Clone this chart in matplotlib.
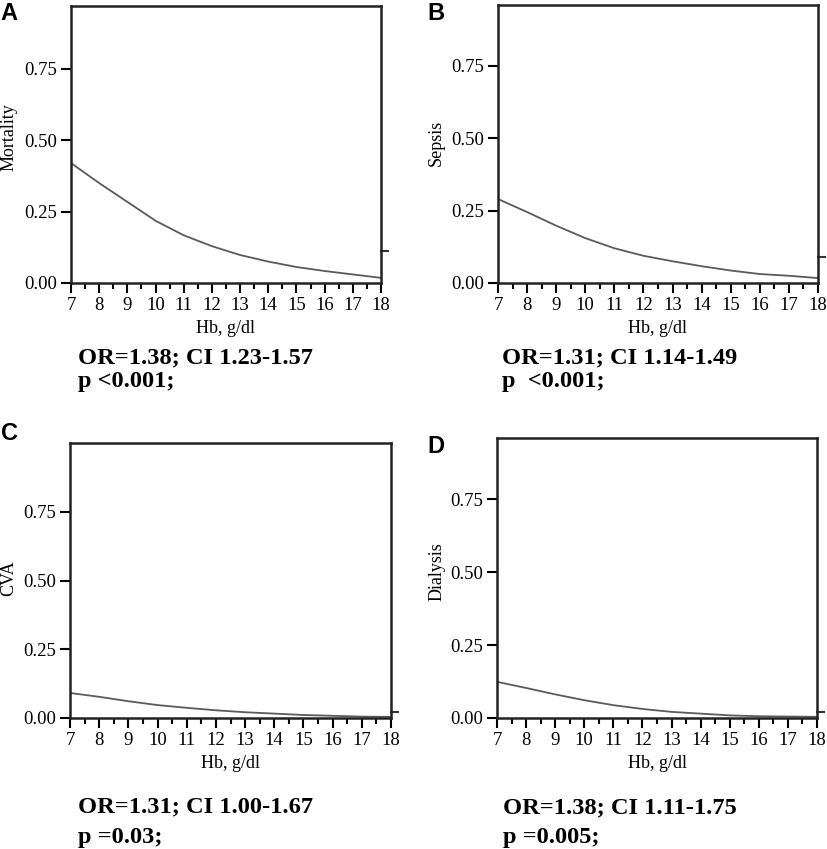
import matplotlib
matplotlib.use("Agg")
import matplotlib.pyplot as plt
import numpy as np

plt.rcParams['font.family'] = 'Liberation Serif'

# Hb values (g/dl) at which the fitted curves were read
hb = [7, 8, 9, 10, 11, 12, 13, 14, 15, 16, 17, 18]

mortality = [0.42, 0.35, 0.284, 0.218, 0.167, 0.129, 0.098, 0.075, 0.056, 0.042, 0.030, 0.018]
sepsis = [0.29, 0.245, 0.198, 0.155, 0.120, 0.094, 0.075, 0.058, 0.043, 0.031, 0.025, 0.017]
cva = [0.091, 0.077, 0.061, 0.047, 0.037, 0.028, 0.021, 0.016, 0.011, 0.008, 0.005, 0.004]
dialysis = [0.124, 0.103, 0.081, 0.061, 0.044, 0.031, 0.021, 0.015, 0.009, 0.006, 0.005, 0.004]

# short marks outside the right axis
observed = [0.112, 0.089, 0.021, 0.020]

ylabels = ['Mortality', 'Sepsis', 'CVA', 'Dialysis']
letters = ['A', 'B', 'C', 'D']
or_text = ['OR=1.38; CI 1.23-1.57', 'OR=1.31; CI 1.14-1.49',
           'OR=1.31; CI 1.00-1.67', 'OR=1.38; CI 1.11-1.75']
p_text = ['p <0.001;', 'p  <0.001;', 'p =0.03;', 'p =0.005;']
series = [mortality, sepsis, cva, dialysis]

W, H = 827, 849
fig = plt.figure(figsize=(W / 100, H / 100), dpi=100)

# pixel boxes: left, right, top, bottom
boxes = [(71, 381, 6, 283), (498, 818, 5, 283), (70, 391, 443, 718), (497, 817, 438, 718)]
ytops = [0.97, 0.96, 1.0, 0.96]
letter_pos = [(0, 13), (427, 14), (1, 434), (427, 447)]
ylab_pos = [(9, 137), (436, 143), (9, 578), (437, 572)]
stat_pos = [(78, 358, 382), (502, 358, 382), (78, 807, 838), (503, 808, 837)]

for i in range(4):
    l, r, t, b = boxes[i]
    ax = fig.add_axes([l / W, 1 - b / H, (r - l) / W, (b - t) / H])
    ax.plot(hb, series[i], color='#5a5a5a', lw=1.3)
    ax.plot([18, 18.25], [observed[i], observed[i]], color='#333333', lw=1.5, clip_on=False)
    ax.set_xlim(7, 18)
    ax.set_ylim(0, ytops[i])
    ax.set_xticks(range(7, 19))
    ax.set_xticks(np.arange(7.5, 18, 1), minor=True)
    ax.set_yticks([0, 0.25, 0.5, 0.75])
    ax.set_yticklabels(['0.00', '0.25', '0.50', '0.75'])
    ax.tick_params(which='major', direction='out', length=7, width=1.5, labelsize=13.5, pad=3)
    ax.tick_params(which='minor', direction='out', length=4, width=1.5)
    ax.tick_params(axis='y', which='minor', left=False)
    for s in ax.spines.values():
        s.set_linewidth(1.8)
        s.set_color('#222222')
    cx = (l + r) / 2
    fig.text(cx / W, 1 - (b + 45) / H, 'Hb, g/dl', ha='center', va='center', fontsize=13)
    yx, yy = ylab_pos[i]
    fig.text(yx / W, 1 - yy / H, ylabels[i], rotation=90,
             ha='center', va='center', fontsize=13)
    lx, ly = letter_pos[i]
    fig.text(lx / W, 1 - ly / H, letters[i], family='Liberation Sans', weight='bold',
             fontsize=17, ha='left', va='center')
    sx, y1, y2 = stat_pos[i]
    fig.text(sx / W, 1 - y1 / H, or_text[i], weight='bold', fontsize=17.6, ha='left', va='center')
    fig.text(sx / W, 1 - y2 / H, p_text[i], weight='bold', fontsize=17.6, ha='left', va='center')

fig.savefig('out.png', dpi=100)
